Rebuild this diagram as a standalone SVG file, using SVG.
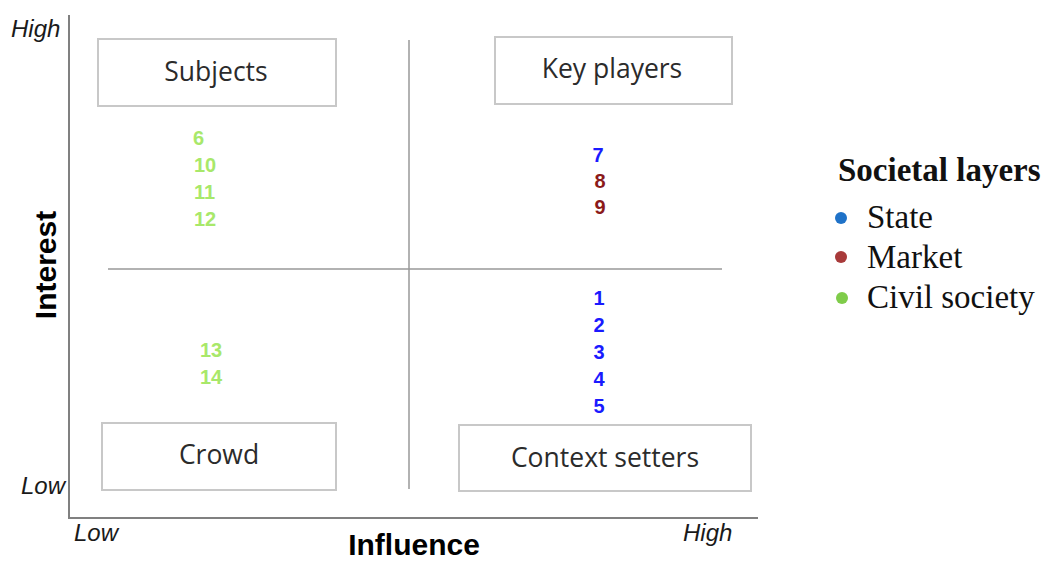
<svg xmlns="http://www.w3.org/2000/svg" width="1054" height="561" viewBox="0 0 1054 561">
<style>
.box{fill:#fff;stroke:#c8c8c8;stroke-width:2}
.bt{font-family:"Open Sans","Liberation Sans",sans-serif;font-size:26.5px;fill:#2b2b2b;text-anchor:middle}
.ax{stroke:#808080;stroke-width:2;fill:none}
.dv{stroke:#999;stroke-width:1.5;fill:none}
.it{font-family:"Liberation Sans",Arial,sans-serif;font-style:italic;font-size:24px;fill:#1a1a1a}
.lb{font-family:"Liberation Sans",Arial,sans-serif;font-weight:bold;font-size:30px;fill:#000}
.n{font-family:"Liberation Sans",Arial,sans-serif;font-weight:bold;font-size:20px}
.g{fill:#a8e86a}.b{fill:#1a1aff}.r{fill:#8b1a1a}
.lg{font-family:"Liberation Serif","Times New Roman",serif;font-size:33px;fill:#111}
</style>
<rect width="1054" height="561" fill="#fff"/>
<g id="axes">
<polyline class="ax" points="69,15 69,518 758,518"/>
<text class="it" x="11" y="37">High</text>
<text class="it" x="21" y="494">Low</text>
<text class="it" x="74" y="541">Low</text>
<text class="it" x="683" y="541">High</text>
<text class="lb" x="414" y="555" text-anchor="middle">Influence</text>
<text class="lb" transform="translate(56,265) rotate(-90)" text-anchor="middle">Interest</text>
</g>
<g id="connectors">
<line class="dv" x1="409" y1="40" x2="409" y2="489"/>
<line class="dv" x1="108" y1="269" x2="722" y2="269"/>
</g>
<g id="subjects"><rect class="box" x="98" y="39" width="238" height="67"/><text class="bt" x="216" y="81">Subjects</text></g>
<g id="key-players"><rect class="box" x="495" y="37" width="237" height="67"/><text class="bt" x="612" y="78">Key players</text></g>
<g id="crowd"><rect class="box" x="102" y="423" width="234" height="67"/><text class="bt" x="219" y="464">Crowd</text></g>
<g id="context-setters"><rect class="box" x="459" y="425" width="292" height="66"/><text class="bt" x="605" y="467">Context setters</text></g>
<g id="civil-high">
<text class="n g" x="193" y="145">6</text>
<text class="n g" x="194" y="172">10</text>
<text class="n g" x="194" y="199">11</text>
<text class="n g" x="194" y="226">12</text>
</g>
<g id="key-numbers">
<text class="n b" x="598" y="162" text-anchor="middle">7</text>
<text class="n r" x="600" y="188" text-anchor="middle">8</text>
<text class="n r" x="600" y="214" text-anchor="middle">9</text>
</g>
<g id="context-numbers">
<text class="n b" x="599" y="305" text-anchor="middle">1</text>
<text class="n b" x="599" y="332" text-anchor="middle">2</text>
<text class="n b" x="599" y="359" text-anchor="middle">3</text>
<text class="n b" x="599" y="386" text-anchor="middle">4</text>
<text class="n b" x="599" y="413" text-anchor="middle">5</text>
</g>
<g id="crowd-numbers">
<text class="n g" x="200" y="357">13</text>
<text class="n g" x="200" y="384">14</text>
</g>
<g id="legend">
<text class="lg" x="838" y="181" font-weight="bold">Societal layers</text>
<circle cx="841" cy="218" r="6" fill="#1f72c8"/>
<text class="lg" x="867" y="228">State</text>
<circle cx="841" cy="257" r="6" fill="#a83a3a"/>
<text class="lg" x="867" y="268">Market</text>
<circle cx="842" cy="298" r="6" fill="#7fcc4a"/>
<text class="lg" x="867" y="308">Civil society</text>
</g>
</svg>
